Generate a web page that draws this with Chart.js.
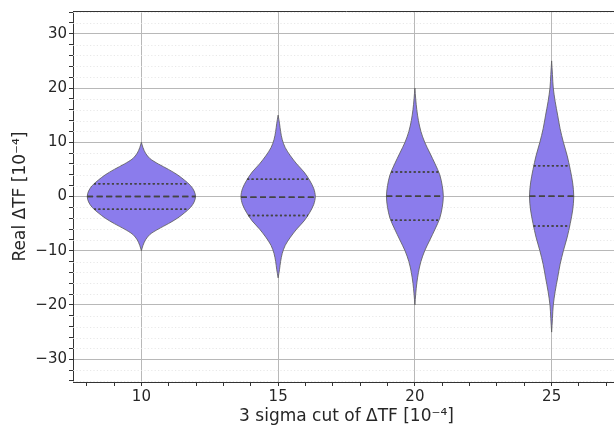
<!DOCTYPE html>
<html>
<head>
<meta charset="utf-8">
<script src="https://cdn.jsdelivr.net/npm/chart.js@4.4.0/dist/chart.umd.min.js"></script>
<style>
  html, body { margin: 0; padding: 0; background: #fff; overflow: hidden; }
  #wrap { width: 622px; height: 427px; }
</style>
</head>
<body>
<div id="wrap"><canvas id="violinChart"></canvas></div>
<script>
// posição de cada violino no eixo x (corte de 3 sigma)
const cuts = [10, 15, 20, 25];

// níveis em y e meia-largura (unidades do eixo x)
const levels10 = [-10, -9, -8, -7, -6, -5, -4, -3, -2, -1, 0, 1, 2, 3, 4, 5, 6, 7, 8, 9, 10];
const widths10 = [0, 0.06, 0.15, 0.31, 0.62, 0.99, 1.32, 1.58, 1.80, 1.93, 1.98, 1.93, 1.80, 1.58, 1.32, 0.99, 0.62, 0.31, 0.15, 0.06, 0];

const levels15 = [-15, -13.5, -12, -10.5, -9, -7.5, -6, -4.5, -3, -1.5, 0, 1.5, 3, 4.5, 6, 7.5, 9, 10.5, 12, 13.5, 15];
const widths15 = [0, 0.05, 0.09, 0.15, 0.26, 0.45, 0.68, 0.95, 1.15, 1.30, 1.36, 1.30, 1.15, 0.95, 0.68, 0.45, 0.26, 0.15, 0.09, 0.05, 0];

const levels20 = [-20, -18, -16, -14, -12, -10, -8, -6, -4, -2, 0, 2, 4, 6, 8, 10, 12, 14, 16, 18, 20];
const widths20 = [0, 0.03, 0.07, 0.13, 0.22, 0.36, 0.55, 0.74, 0.91, 1.00, 1.04, 1.00, 0.91, 0.74, 0.55, 0.36, 0.22, 0.13, 0.07, 0.03, 0];

const levels25 = [-25, -22.5, -20, -17.5, -15, -12.5, -10, -7.5, -5, -2.5, 0, 2.5, 5, 7.5, 10, 12.5, 15, 17.5, 20, 22.5, 25];
const widths25 = [0, 0.03, 0.06, 0.13, 0.22, 0.31, 0.43, 0.57, 0.68, 0.77, 0.81, 0.77, 0.68, 0.57, 0.43, 0.31, 0.22, 0.13, 0.06, 0.03, 0];

// quartis e medianas
const quartLow = [-2.33, -3.48, -4.4, -5.44];
const medians = [0, -0.13, 0.05, 0.05];
const quartHigh = [2.33, 3.17, 4.53, 5.68];

// ticks
const xMajorTicks = [10, 15, 20, 25];
const yMajorTicks = [-30, -20, -10, 0, 10, 20, 30];

const allLevels = [levels10, levels15, levels20, levels25];
const allWidths = [widths10, widths15, widths20, widths25];

const FILL = '#8b7cec';
const EDGE = 'rgba(95,95,95,0.85)';
const INNER = '#444444';

function halfWidthAt(levels, widths, y) {
  for (let k = 0; k < levels.length - 1; k++) {
    if (y >= levels[k] && y <= levels[k + 1]) {
      const t = (y - levels[k]) / (levels[k + 1] - levels[k]);
      return widths[k] + t * (widths[k + 1] - widths[k]);
    }
  }
  return 0;
}

const datasets = [];
cuts.forEach((c, i) => {
  const lv = allLevels[i], wd = allWidths[i];
  datasets.push({
    data: lv.map((y, k) => ({ x: c + wd[k], y })),
    borderColor: EDGE, borderWidth: 1, fill: false, order: 2
  });
  datasets.push({
    data: lv.map((y, k) => ({ x: c - wd[k], y })),
    borderColor: EDGE, borderWidth: 1, backgroundColor: FILL, fill: '-1', order: 2
  });
});

// linhas internas (quartis pontilhados, mediana tracejada)
cuts.forEach((c, i) => {
  const lv = allLevels[i], wd = allWidths[i];
  [[quartLow[i], [2, 2.5]], [medians[i], [6, 3.5]], [quartHigh[i], [2, 2.5]]].forEach(([q, dash]) => {
    const hw = halfWidthAt(lv, wd, q);
    datasets.push({
      data: [{ x: c - hw, y: q }, { x: c + hw, y: q }],
      borderColor: INNER, borderWidth: 1.5, borderDash: dash, fill: false, order: 1, inner: true
    });
  });
});

const xTicks = [];
for (let v = 8; v <= 27; v++) xTicks.push(v);
const yTicks = [];
for (let v = -34; v <= 34; v += 2) yTicks.push(v);

const extras = {
  id: 'extras',
  beforeDatasetsDraw(chart) {
    const { ctx, chartArea, scales } = chart;
    ctx.save();
    ctx.strokeStyle = '#e2e2e2';
    ctx.lineWidth = 0.8;
    ctx.setLineDash([1.2, 2.2]);
    yTicks.forEach(v => {
      if (yMajorTicks.includes(v)) return;
      const py = Math.round(scales.y.getPixelForValue(v)) + 0.5;
      ctx.beginPath();
      ctx.moveTo(chartArea.left, py);
      ctx.lineTo(chartArea.right, py);
      ctx.stroke();
    });
    ctx.restore();
  },
  afterDraw(chart) {
    const { ctx, chartArea } = chart;
    // linhas internas por cima da grade
    ctx.save();
    ctx.beginPath();
    ctx.rect(chartArea.left, chartArea.top, chartArea.right - chartArea.left, chartArea.bottom - chartArea.top);
    ctx.clip();
    chart.data.datasets.forEach((ds, i) => {
      if (ds.inner) chart.getDatasetMeta(i).controller.draw();
    });
    ctx.restore();
    // borda superior
    ctx.save();
    ctx.strokeStyle = '#333333';
    ctx.lineWidth = 1;
    ctx.beginPath();
    ctx.moveTo(chartArea.left, chartArea.top + 0.5);
    ctx.lineTo(chartArea.right, chartArea.top + 0.5);
    ctx.stroke();
    ctx.restore();
  }
};

const tickFont = { family: 'DejaVu Sans', size: 15 };
const titleFont = { family: 'DejaVu Sans', size: 17 };
const minus = v => (v < 0 ? '\u2212' + Math.abs(v) : String(v));

new Chart(document.getElementById('violinChart'), {
  type: 'scatter',
  data: { datasets },
  options: {
    responsive: true,
    maintainAspectRatio: false,
    animation: false,
    indexAxis: 'y',
    layout: { padding: { top: 9, right: 2, left: 0, bottom: 0 } },
    elements: { point: { radius: 0, hoverRadius: 0 }, line: { tension: 0.3 } },
    datasets: { scatter: { showLine: true } },
    plugins: { legend: { display: false }, tooltip: { enabled: false } },
    scales: {
      x: {
        type: 'linear', min: 7.5, max: 27.5, z: 1,
        afterBuildTicks: s => { s.ticks = xTicks.map(v => ({ value: v })); },
        afterFit: s => { s.height = 45; },
        ticks: {
          autoSkip: false, maxRotation: 0, padding: 2, color: '#262626', font: tickFont,
          callback: v => (xMajorTicks.includes(v) ? String(v) : '')
        },
        grid: {
          color: c => (c.tick && xMajorTicks.includes(c.tick.value) ? '#b8b8b8' : 'rgba(0,0,0,0)'),
          lineWidth: 1, tickLength: 4, tickColor: '#333333', tickWidth: 1
        },
        border: { color: '#333333', width: 1 },
        title: { display: true, text: '3 sigma cut of \u0394TF [10\u207B\u2074]', color: '#262626', font: titleFont, padding: { top: 0, bottom: 0 } }
      },
      y: {
        type: 'linear', min: -34.2, max: 34.2, z: 1,
        afterBuildTicks: s => { s.ticks = yTicks.map(v => ({ value: v })); },
        afterFit: s => { s.width = 73; },
        ticks: {
          autoSkip: false, padding: 2, color: '#262626', font: tickFont,
          callback: v => (yMajorTicks.includes(v) ? minus(v) : '')
        },
        grid: {
          color: c => (c.tick && yMajorTicks.includes(c.tick.value) ? '#b8b8b8' : 'rgba(0,0,0,0)'),
          lineWidth: 1, tickLength: 4, tickColor: '#333333', tickWidth: 1
        },
        border: { color: '#333333', width: 1 },
        title: { display: true, text: 'Real \u0394TF [10\u207B\u2074]', color: '#262626', font: titleFont, padding: { top: 10, bottom: 0 } }
      }
    }
  },
  plugins: [extras]
});
</script>
</body>
</html>
